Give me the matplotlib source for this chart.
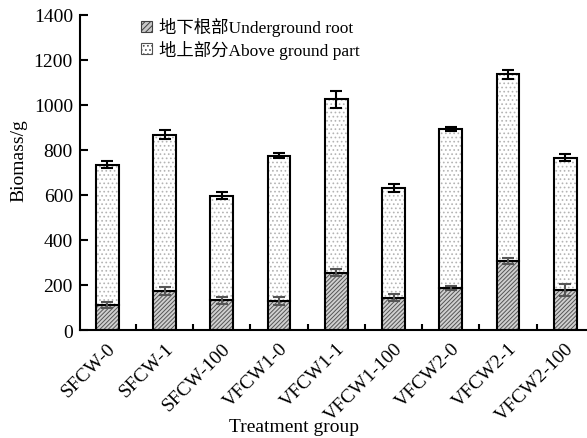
import numpy as np
import matplotlib
matplotlib.use("Agg")
import matplotlib.pyplot as plt
from matplotlib.ticker import FixedLocator

plt.rcParams['font.family'] = ['Liberation Serif', 'Noto Sans CJK SC']
plt.rcParams['hatch.linewidth'] = 0.7

groups = ['SFCW-0', 'SFCW-1', 'SFCW-100', 'VFCW1-0', 'VFCW1-1', 'VFCW1-100',
          'VFCW2-0', 'VFCW2-1', 'VFCW2-100']
root = [111, 173, 132, 129, 255, 144, 187, 307, 178]
root_err = [14, 17, 16, 19, 15, 15, 9, 12, 26]
total = [735, 868, 597, 775, 1025, 631, 893, 1135, 766]
total_err = [15, 20, 16, 13, 38, 18, 10, 20, 15]

above = [t - r for t, r in zip(total, root)]
x = np.arange(len(groups))
w = 0.4

fig = plt.figure(figsize=(5.87, 4.39), dpi=100)
ax = fig.add_axes([0.136, 0.246, 0.864, 0.718])

# underground part: grey diagonal hatch
ax.bar(x, root, w, color='#d0d0d0', edgecolor='#555555', hatch='////////', linewidth=0)
ax.bar(x, root, w, color='none', edgecolor='black', linewidth=1.5)
# above ground part: light dots
ax.bar(x, above, w, bottom=root, color='white', edgecolor='#b4b4b4', hatch='....', linewidth=0)
ax.bar(x, above, w, bottom=root, color='none', edgecolor='black', linewidth=1.5)

ax.errorbar(x, root, yerr=root_err, fmt='none', ecolor='#555555', elinewidth=1.5,
            capsize=4.5, capthick=1.5)
ax.errorbar(x, total, yerr=total_err, fmt='none', ecolor='black', elinewidth=1.5,
            capsize=4.5, capthick=1.5)

# legend proxies
h1 = ax.bar([0], [0], color='#c8c8c8', edgecolor='#404040', hatch='//////', linewidth=0.8)
h2 = ax.bar([0], [0], color='white', edgecolor='#505050', hatch='....', linewidth=0.8)
ax.legend([h1, h2], ['地下根部Underground root', '地上部分Above ground part'],
          loc='upper left', bbox_to_anchor=(0.226, 0.978, 0, 0), bbox_transform=fig.transFigure,
          frameon=False, fontsize=12.5, handlelength=0.6, handleheight=0.6,
          handletextpad=0.4, labelspacing=0.2, borderpad=0)

ax.set_ylim(0, 1400)
ax.set_yticks(range(0, 1401, 200))
ax.set_xlim(-0.48, 8.38)
ax.set_xticks(x)
ax.set_xticklabels(groups, rotation=45, ha='right', va='top', rotation_mode='anchor')
ax.xaxis.set_minor_locator(FixedLocator(x[:-1] + 0.5))
ax.tick_params(axis='x', which='major', length=0, pad=7, labelsize=14)
ax.tick_params(axis='x', which='minor', direction='in', length=4, width=1.5)
ax.tick_params(axis='y', direction='in', length=6, width=1.5, labelsize=14, pad=5)

for s in ['top', 'right']:
    ax.spines[s].set_visible(False)
for s in ['left', 'bottom']:
    ax.spines[s].set_linewidth(1.5)

ax.set_xlabel('Treatment group', fontsize=14)
ax.xaxis.set_label_coords((294 - 80) / 507, -0.28)
ax.set_ylabel('Biomass/g', fontsize=14)
ax.yaxis.set_label_coords(-0.103, 0.54)

fig.savefig('out.png', dpi=100)
